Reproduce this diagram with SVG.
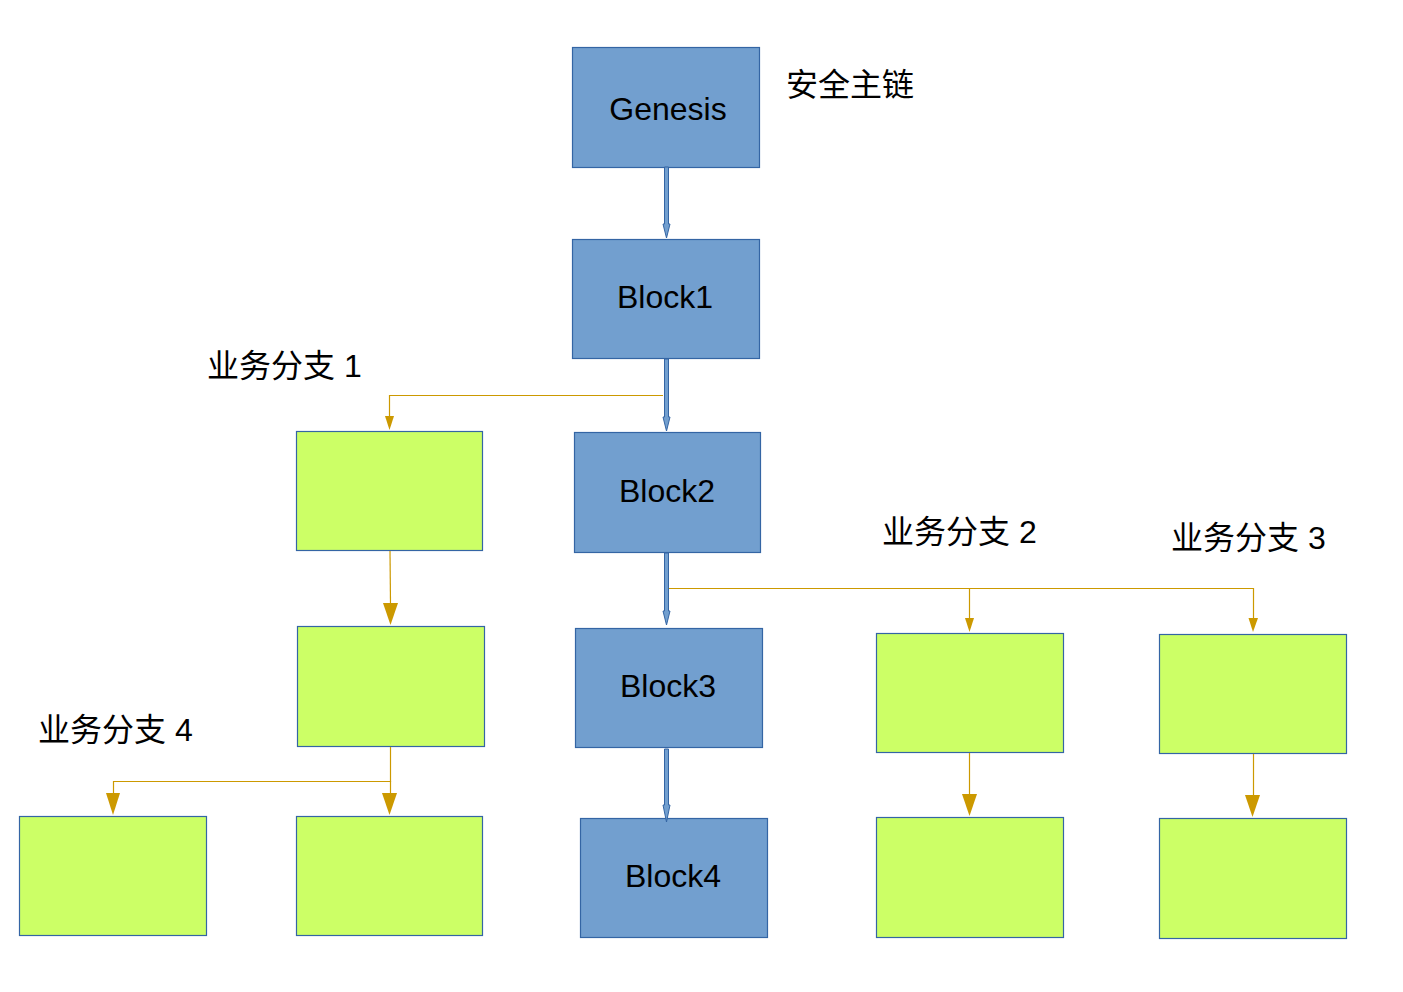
<svg xmlns="http://www.w3.org/2000/svg" width="1403" height="992" viewBox="0 0 1403 992">
<defs>
<style>
.main{fill:#729fcf;stroke:#3465a4;stroke-width:1.2}
.side{fill:#ccff66;stroke:#3465a4;stroke-width:1.2}
.lbl{font-family:"Liberation Sans",Arial,sans-serif;font-size:32px;fill:#000;text-anchor:middle}
.cn{font-family:"Liberation Sans","Noto Sans CJK SC",sans-serif;font-size:32px;fill:#000}
.y{fill:none;stroke:#cc9900;stroke-width:1.2}
.ya{fill:#cc9900}
.ba{fill:#729fcf;stroke:#3465a4;stroke-width:1}
</style>
</defs>
<rect width="1403" height="992" fill="#ffffff"/>
<g id="genesis"><rect class="main" x="572.5" y="47.5" width="187" height="120"/><text class="lbl" x="668" y="120">Genesis</text></g>
<g id="block1"><rect class="main" x="572.5" y="239.5" width="187" height="119"/><text class="lbl" x="665" y="308">Block1</text></g>
<g id="block2"><rect class="main" x="574.5" y="432.5" width="186" height="120"/><text class="lbl" x="667" y="502">Block2</text></g>
<g id="block3"><rect class="main" x="575.5" y="628.5" width="187" height="119"/><text class="lbl" x="668" y="697">Block3</text></g>
<g id="block4"><rect class="main" x="580.5" y="818.5" width="187" height="119"/><text class="lbl" x="673" y="887">Block4</text></g>
<g id="g1"><rect class="side" x="296.5" y="431.5" width="186" height="119"/></g>
<g id="g2"><rect class="side" x="297.5" y="626.5" width="187" height="120"/></g>
<g id="g3"><rect class="side" x="19.5" y="816.5" width="187" height="119"/></g>
<g id="g4"><rect class="side" x="296.5" y="816.5" width="186" height="119"/></g>
<g id="g5"><rect class="side" x="876.5" y="633.5" width="187" height="119"/></g>
<g id="g6"><rect class="side" x="1159.5" y="634.5" width="187" height="119"/></g>
<g id="g7"><rect class="side" x="876.5" y="817.5" width="187" height="120"/></g>
<g id="g8"><rect class="side" x="1159.5" y="818.5" width="187" height="120"/></g>
<g id="labels">
<text class="cn" x="786" y="96">安全主链</text>
<text class="cn" x="207" y="377">业务分支 1</text>
<text class="cn" x="882" y="543">业务分支 2</text>
<text class="cn" x="1171" y="549">业务分支 3</text>
<text class="cn" x="38" y="741">业务分支 4</text>
</g>
<g id="connectors">
<polygon class="ba" points="664.5,167 668.5,167 668.5,224 670,224 666.5,238 663,224 664.5,224"/>
<polygon class="ba" points="664.5,359 668.5,359 668.5,417 670,417 666.5,431 663,417 664.5,417"/>
<polygon class="ba" points="664.5,553 668.5,553 668.5,611 670,611 666.5,625 663,611 664.5,611"/>
<polygon class="ba" points="664.5,749 668.5,749 668.5,805 670,805 666.5,822 663,805 664.5,805"/>
<polyline class="y" points="663,395.5 389.5,395.5 389.5,418"/>
<polygon class="ya" points="385,416 394,416 389.5,430"/>
<line class="y" x1="390" y1="551" x2="390.5" y2="604"/>
<polygon class="ya" points="383,603 398,603 390.5,625"/>
<polyline class="y" points="390.5,747 390.5,781.5 113.5,781.5 113.5,794"/>
<line class="y" x1="390.5" y1="781" x2="390.5" y2="794"/>
<polygon class="ya" points="106,793 120,793 113,815"/>
<polygon class="ya" points="382,793 397,793 389.5,815"/>
<polyline class="y" points="669,588.5 1253.5,588.5 1253.5,620"/>
<line class="y" x1="969.5" y1="588" x2="969.5" y2="620"/>
<polygon class="ya" points="965,618 974,618 969.5,632"/>
<polygon class="ya" points="1248.5,618 1258,618 1253,632"/>
<line class="y" x1="969.5" y1="753" x2="969.5" y2="795"/>
<polygon class="ya" points="962,794 977,794 969.5,816"/>
<line class="y" x1="1253.5" y1="754" x2="1253.5" y2="796"/>
<polygon class="ya" points="1245,795 1260,795 1252.5,817"/>
</g>
</svg>
